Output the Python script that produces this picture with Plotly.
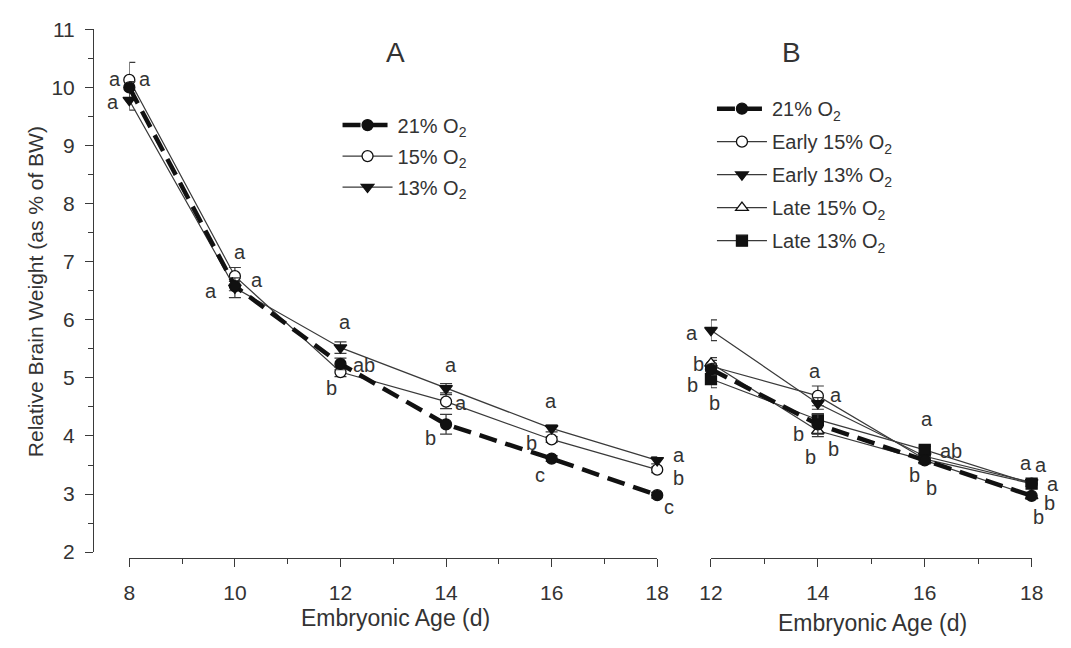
import plotly.graph_objects as go

# ---------------- data ----------------
A_x = [8, 10, 12, 14, 16, 18]
A_21 = [10.0, 6.58, 5.24, 4.2, 3.61, 2.98]
A_15 = [10.13, 6.75, 5.1, 4.59, 3.94, 3.42]
A_13 = [9.78, 6.55, 5.52, 4.82, 4.13, 3.58]
A_21_err = [0.1, 0.08, 0.1, 0.17, 0.05, 0.05]
A_15_err = [0.3, 0.15, 0.08, 0.12, 0.05, 0.05]
A_13_err = [0.17, 0.17, 0.1, 0.08, 0.06, 0.06]

B_x = [12, 14, 16, 18]
B_21 = [5.15, 4.2, 3.58, 2.97]
B_E15 = [5.2, 4.69, 3.6, 3.18]
B_E13 = [5.82, 4.56, 3.65, 3.2]
B_L15 = [5.25, 4.09, 3.58, 2.97]
B_L13 = [4.98, 4.28, 3.76, 3.18]
B_21_err = [0.1, 0.17, 0.05, 0.05]
B_E15_err = [0.1, 0.17, 0.05, 0.05]
B_E13_err = [0.18, 0.1, 0.05, 0.05]
B_L15_err = [0.1, 0.1, 0.06, 0.06]
B_L13_err = [0.15, 0.1, 0.06, 0.05]

# significance letters (x, y, text) in data units
A_letters_x = [7.72, 8.30, 7.69, 10.09, 10.41, 9.54, 12.09, 12.44, 11.83,
               14.09, 14.28, 13.70, 15.98, 15.61, 15.78, 18.41, 18.41, 18.22]
A_letters_y = [10.15, 10.14, 9.75, 7.16, 6.68, 6.50, 5.97, 5.22, 4.82,
               5.22, 4.56, 3.96, 4.61, 3.88, 3.33, 3.68, 3.28, 2.78]
A_letters_t = ["a", "a", "a", "a", "a", "a", "a", "ab", "b",
               "a", "a", "b", "a", "b", "c", "a", "b", "c"]

B_letters_x = [11.65, 11.76, 11.65, 12.07, 13.95, 14.34, 13.63, 13.86, 14.30,
               16.04, 16.49, 15.80, 16.13, 17.90, 18.17, 18.40, 18.34, 18.12]
B_letters_y = [5.77, 5.24, 4.87, 4.56, 5.11, 4.71, 4.04, 3.63, 3.78,
               4.29, 3.74, 3.33, 3.10, 3.53, 3.50, 3.17, 2.84, 2.60]
B_letters_t = ["a", "b", "b", "b", "a", "a", "b", "b", "b",
               "a", "ab", "b", "b", "a", "a", "a", "b", "b"]

A_range = [8, 18]
B_range = [12, 18]
Y_range = [2, 11]

# ---------------- style ----------------
INK = "#333333"
LINE = "#3a3a3a"
FONT = "Liberation Sans, Arial, sans-serif"

fig = go.Figure()


def err(vals):
    return dict(type="data", array=vals, visible=True, color=LINE,
                thickness=1.2, width=6)


def add(x, y, e, name, symbol, xa, legend, rank, dashed=False, fill=True):
    if dashed:
        line = dict(color="#111111", width=4.5, dash="18px,9px")
    else:
        line = dict(color=LINE, width=1.2)
    marker = dict(symbol=symbol, size=11,
                  color="#111111" if fill else "white",
                  line=dict(color="#111111", width=1.3))
    fig.add_trace(go.Scatter(
        x=x, y=y, mode="lines+markers", name=name, line=line, marker=marker,
        error_y=err(e), xaxis=xa, yaxis="y" if xa == "x" else "y2",
        cliponaxis=False, legend=legend, legendrank=rank,
        legendgroup=legend + str(rank)))


# Panel A
add(A_x, A_15, A_15_err, "15% O<sub>2</sub>", "circle", "x", "legend", 2, fill=False)
add(A_x, A_13, A_13_err, "13% O<sub>2</sub>", "triangle-down", "x", "legend", 3)
add(A_x, A_21, A_21_err, "21% O<sub>2</sub>", "circle", "x", "legend", 1, dashed=True)

# Panel B
add(B_x, B_E15, B_E15_err, "Early 15% O<sub>2</sub>", "circle", "x2", "legend2", 2, fill=False)
add(B_x, B_E13, B_E13_err, "Early 13% O<sub>2</sub>", "triangle-down", "x2", "legend2", 3)
add(B_x, B_L15, B_L15_err, "Late 15% O<sub>2</sub>", "triangle-up", "x2", "legend2", 4, fill=False)
add(B_x, B_L13, B_L13_err, "Late 13% O<sub>2</sub>", "square", "x2", "legend2", 5)
add(B_x, B_21, B_21_err, "21% O<sub>2</sub>", "circle", "x2", "legend2", 1, dashed=True)


def frac(v, r):
    return (v - r[0]) / (r[1] - r[0])


LETTER_FONT = dict(size=20, color=INK, family=FONT)
annotations = []
for x, y, t in zip(A_letters_x, A_letters_y, A_letters_t):
    annotations.append(dict(x=frac(x, A_range), y=frac(y, Y_range),
                            xref="x domain", yref="y domain", text=t,
                            showarrow=False, xanchor="center", yanchor="middle",
                            font=LETTER_FONT))
for x, y, t in zip(B_letters_x, B_letters_y, B_letters_t):
    annotations.append(dict(x=frac(x, B_range), y=frac(y, Y_range),
                            xref="x2 domain", yref="y2 domain", text=t,
                            showarrow=False, xanchor="center", yanchor="middle",
                            font=LETTER_FONT))

W, H = 1071, 648


def ptext(px, py, text, size, angle=0):
    return dict(x=px / W, y=1 - py / H, xref="paper", yref="paper", text=text,
                showarrow=False, xanchor="center", yanchor="middle", textangle=angle,
                font=dict(size=size, color=INK, family=FONT))


annotations += [
    ptext(392, 42, "A", 28),
    ptext(797, 42, "B", 28),
    ptext(24, 290, "Relative Brain Weight (as % of BW)", 21, -90),
    ptext(392, 628, "Embryonic Age (d)", 23),
    ptext(880, 633, "Embryonic Age (d)", 23),
]

ydom = [(H - 560) / H, (H - 18) / H]
xpos = (H - 566) / H
axis_common = dict(showline=True, linecolor=LINE, linewidth=1.3, ticks="outside",
                   ticklen=8, tickwidth=1.3, tickcolor=LINE, showgrid=False,
                   zeroline=False, tickfont=dict(size=21, color=INK, family=FONT))
minor_common = dict(ticks="outside", ticklen=5, tickcolor=LINE, tickwidth=1.3,
                    showgrid=False)

fig.update_layout(
    width=W, height=H, margin=dict(l=0, r=0, t=0, b=0),
    paper_bgcolor="white", plot_bgcolor="white",
    font=dict(family=FONT, color=INK),
    showlegend=True,
    xaxis=dict(domain=[120 / W, 660 / W], range=A_range, anchor="free", position=xpos,
               tickvals=[8, 10, 12, 14, 16, 18], ticklabelstandoff=8,
               minor=dict(tickvals=[9, 11, 13, 15, 17], **minor_common),
               **axis_common),
    xaxis2=dict(domain=[715 / W, 1043 / W], range=B_range, anchor="free", position=xpos,
                tickvals=[12, 14, 16, 18], ticklabelstandoff=8,
                minor=dict(tickvals=[13, 15, 17], **minor_common),
                **axis_common),
    yaxis=dict(domain=ydom, range=Y_range, anchor="free", position=83 / W,
               tickvals=list(range(2, 12)), ticklabelstandoff=6,
               minor=dict(tickvals=[2.5 + i for i in range(9)], **minor_common),
               **axis_common),
    yaxis2=dict(domain=ydom, range=Y_range, anchor="x2", visible=False),
    legend=dict(x=333 / W, y=1 - 97 / H, xanchor="left", yanchor="top",
                bgcolor="rgba(0,0,0,0)", font=dict(size=20, color=INK, family=FONT),
                itemwidth=50, traceorder="grouped", tracegroupgap=2),
    legend2=dict(x=716 / W, y=1 - 80 / H, xanchor="left", yanchor="top",
                 bgcolor="rgba(0,0,0,0)", font=dict(size=20, color=INK, family=FONT),
                 itemwidth=50, traceorder="grouped", tracegroupgap=4),
    annotations=annotations,
)

fig.write_html("out.html")
